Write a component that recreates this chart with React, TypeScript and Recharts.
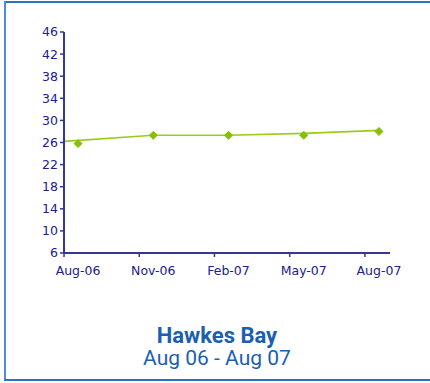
import React from "react";
import { LineChart, Line, XAxis, YAxis } from "recharts";

// Month index from Aug-06 (0) to Aug-07 (12)
const months = [0, 3, 6, 9, 12];
const monthLabels = ["Aug-06", "Nov-06", "Feb-07", "May-07", "Aug-07"];
const values = [25.8, 27.3, 27.3, 27.3, 28.0];

// Smoothed trend line, starting at the left edge of the axis
const AXIS_MIN = -0.56;
const AXIS_MAX = 12.44;
const trendMonths = [AXIS_MIN, 3, 6, 9, 12];
const trendValues = [26.2, 27.3, 27.3, 27.65, 28.2];

const yTicks = [6, 10, 14, 18, 22, 26, 30, 34, 38, 42, 46];

const pointData = months.map((m, i) => ({ m, v: values[i] }));
const trendData = trendMonths.map((m, i) => ({ m, v: trendValues[i] }));

const CHART_W = 430;
const CHART_H = 300;
const MARGIN = { top: 32, right: 40, left: 0, bottom: 17 };
const Y_AXIS_W = 64;
const PLOT_W = CHART_W - MARGIN.left - MARGIN.right - Y_AXIS_W;
const PX_PER_MONTH = PLOT_W / (AXIS_MAX - AXIS_MIN);

const AXIS_COLOR = "#35359a";
const TEXT_COLOR = "#20208a";
const LINE_COLOR = "#9acd1a";
const MARK_COLOR = "#86c000";
const TITLE_COLOR = "#1a5fb2";
const FRAME_COLOR = "#2a72c2";
const TICK_FONT = "'DejaVu Sans', Verdana, sans-serif";

const TICK_SIZE = 4;
const TICK_MARGIN = 2;

// Tick marks sit at the start of each labelled month; labels sit under the data point.
const MonthTick = (props: any) => {
  const { x, y, payload } = props;
  const axisY = y - TICK_SIZE - TICK_MARGIN;
  const markX = x - (0 - AXIS_MIN) * PX_PER_MONTH;
  const idx = months.indexOf(payload.value);
  return (
    <g>
      <line x1={markX} y1={axisY} x2={markX} y2={axisY + TICK_SIZE} stroke={AXIS_COLOR} strokeWidth={1.5} />
      <text
        x={x}
        y={y}
        dy={16}
        textAnchor="middle"
        fill={TEXT_COLOR}
        fontSize={12.5}
        fontFamily={TICK_FONT}
      >
        {idx >= 0 ? monthLabels[idx] : ""}
      </text>
    </g>
  );
};

const DiamondDot = (props: any) => {
  const { cx, cy } = props;
  if (cx == null || cy == null) return null;
  const r = 4;
  return (
    <path
      d={`M${cx},${cy - r} L${cx + r},${cy} L${cx},${cy + r} L${cx - r},${cy} Z`}
      fill={MARK_COLOR}
      stroke={MARK_COLOR}
      strokeWidth={1}
    />
  );
};

export default function App() {
  return (
    <div
      style={{
        position: "absolute",
        left: 0,
        top: 0,
        width: 430,
        height: 383,
        background: "#ffffff",
        overflow: "hidden",
      }}
    >
      {/* Open frame: top, left and bottom edges */}
      <svg width={430} height={383} style={{ position: "absolute", left: 0, top: 0 }}>
        <line x1={5} y1={2} x2={430} y2={2} stroke={FRAME_COLOR} strokeWidth={2} />
        <line x1={5} y1={1} x2={5} y2={381} stroke="#4d8ed3" strokeWidth={2} />
        <line x1={4} y1={380} x2={430} y2={380} stroke={FRAME_COLOR} strokeWidth={2} />
      </svg>
      <div style={{ position: "absolute", left: 0, top: 0 }}>
        <LineChart width={CHART_W} height={CHART_H} margin={MARGIN}>
          <XAxis
            dataKey="m"
            type="number"
            domain={[AXIS_MIN, AXIS_MAX]}
            allowDataOverflow
            ticks={months}
            interval={0}
            height={30}
            tickLine={false}
            tickSize={TICK_SIZE}
            tickMargin={TICK_MARGIN}
            tick={<MonthTick />}
            axisLine={{ stroke: AXIS_COLOR, strokeWidth: 2 }}
          />
          <YAxis
            type="number"
            domain={[6, 46]}
            ticks={yTicks}
            interval={0}
            width={Y_AXIS_W}
            tickSize={TICK_SIZE}
            tickMargin={TICK_MARGIN}
            axisLine={{ stroke: AXIS_COLOR, strokeWidth: 2 }}
            tickLine={{ stroke: AXIS_COLOR, strokeWidth: 1.5 }}
            tick={{ fill: TEXT_COLOR, fontSize: 12.5, fontFamily: TICK_FONT }}
          />
          <Line
            data={trendData}
            dataKey="v"
            type="linear"
            stroke={LINE_COLOR}
            strokeWidth={1.6}
            dot={false}
            activeDot={false}
            isAnimationActive={false}
          />
          <Line
            data={pointData}
            dataKey="v"
            type="linear"
            stroke="none"
            dot={<DiamondDot />}
            activeDot={false}
            isAnimationActive={false}
          />
        </LineChart>
      </div>
      <div
        style={{
          position: "absolute",
          left: 4,
          width: 426,
          top: 324,
          textAlign: "center",
          fontFamily: "Roboto, 'Liberation Sans', sans-serif",
          color: TITLE_COLOR,
          lineHeight: "23px",
        }}
      >
        <div style={{ fontSize: 22, fontWeight: 700 }}>Hawkes Bay</div>
        <div style={{ fontSize: 21, fontWeight: 400 }}>Aug 06 - Aug 07</div>
      </div>
    </div>
  );
}
